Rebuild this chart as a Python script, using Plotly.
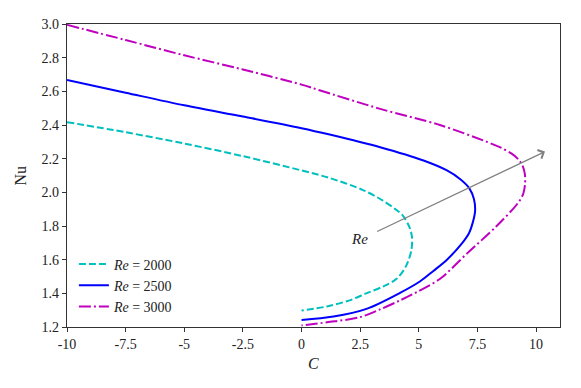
import plotly.graph_objects as go

# Nu versus C, one branch per Reynolds number
c_re2000 = [-10, -7.5, -5, -2.5, 0, 1.2, 2.6, 3.47, 4.0, 4.32, 4.6, 4.71, 4.68, 4.45, 4.05, 3.47, 2.76, 2.08, 1.08, 0]
nu_re2000 = [2.417, 2.357, 2.29, 2.215, 2.13, 2.085, 2.015, 1.951, 1.90, 1.862, 1.793, 1.733, 1.654, 1.56, 1.486, 1.44, 1.40, 1.36, 1.322, 1.298]

c_re2500 = [-10, -7.5, -5, -2.5, 0, 1.2, 3.35, 5.2, 6.2, 6.77, 7.15, 7.35, 7.4, 7.3, 7.15, 6.83, 6.2, 5.62, 5.06, 4.2, 2.77, 1.36, 0]
nu_re2500 = [2.668, 2.592, 2.517, 2.45, 2.381, 2.343, 2.268, 2.189, 2.13, 2.078, 2.025, 1.96, 1.89, 1.82, 1.76, 1.695, 1.60, 1.533, 1.472, 1.403, 1.308, 1.262, 1.242]

c_re3000 = [-10, -7.5, -5, -2.5, 0, 0.8, 3.35, 5.9, 7.9, 8.5, 8.96, 9.25, 9.42, 9.52, 9.53, 9.45, 9.22, 8.32, 7.05, 5.91, 4.92, 4.2, 3.35, 2.48, 1.08, 0]
nu_re3000 = [2.995, 2.905, 2.814, 2.73, 2.64, 2.605, 2.496, 2.40, 2.30, 2.265, 2.23, 2.195, 2.16, 2.11, 2.05, 1.99, 1.935, 1.80, 1.636, 1.487, 1.408, 1.358, 1.305, 1.258, 1.228, 1.209]

x_ticks = [-10, -7.5, -5, -2.5, 0, 2.5, 5, 7.5, 10]
x_tick_text = ["-10", "-7.5", "-5", "-2.5", "0", "2.5", "5", "7.5", "10"]
y_ticks = [1.2, 1.4, 1.6, 1.8, 2.0, 2.2, 2.4, 2.6, 2.8, 3.0]

FONT = "Liberation Serif, serif"
TEXT = "#222"

series = [
    ("<i>Re</i> = 2000", c_re2000, nu_re2000, "#00BFBF", "7px,3px"),
    ("<i>Re</i> = 2500", c_re2500, nu_re2500, "#0000FF", "solid"),
    ("<i>Re</i> = 3000", c_re3000, nu_re3000, "#BF00BF", "12px,3px,2px,3px"),
]

fig = go.Figure()
for name, xs, ys, color, dash in series:
    fig.add_trace(go.Scatter(
        x=xs, y=ys, mode="lines", name=name,
        line={"color": color, "width": 2, "dash": dash, "shape": "spline", "smoothing": 0.9},
    ))

# arrow showing increasing Re
fig.add_annotation(
    x=10.38, y=2.242, ax=3.16, ay=1.763, xref="x", yref="y", axref="x", ayref="y",
    text="", showarrow=True, arrowhead=4, arrowsize=1.4, arrowwidth=1.3,
    arrowcolor="#808080", standoff=0, startstandoff=0,
)
fig.add_annotation(
    x=2.45, y=1.72, xref="x", yref="y", text="<i>Re</i>", showarrow=False,
    font={"family": FONT, "size": 15, "color": TEXT},
)

# axis titles
fig.add_annotation(
    x=0.5, y=0, xref="paper", yref="paper", text="<i>C</i>", showarrow=False,
    xanchor="center", yanchor="top", yshift=-26,
    font={"family": FONT, "size": 16, "color": TEXT},
)
fig.add_annotation(
    x=0, y=0.5, xref="paper", yref="paper", text="Nu", showarrow=False, textangle=-90,
    xanchor="center", yanchor="middle", xshift=-47,
    font={"family": FONT, "size": 16, "color": TEXT},
)

axis_common = {
    "showline": True, "linecolor": "#333", "linewidth": 1.2, "mirror": True,
    "ticks": "outside", "ticklen": 4, "tickcolor": "#333",
    "showgrid": False, "zeroline": False, "automargin": False,
    "tickfont": {"family": FONT, "size": 14, "color": TEXT},
}

# page body keeps its default 8px margin, so the figure is 8px smaller than the window
fig.update_layout(
    width=573, height=380,
    paper_bgcolor="white", plot_bgcolor="white",
    margin={"l": 59, "r": 21, "t": 16, "b": 61},
    xaxis={**axis_common, "range": [-10, 11.02], "tickvals": x_ticks, "ticktext": x_tick_text},
    yaxis={**axis_common, "range": [1.2, 3.0], "tickvals": y_ticks, "tickformat": ".1f"},
    legend={"x": 0.014, "y": 0.015, "xanchor": "left", "yanchor": "bottom",
            "bgcolor": "rgba(0,0,0,0)", "itemwidth": 30, "tracegroupgap": 0,
            "font": {"family": FONT, "size": 14, "color": TEXT}},
    showlegend=True,
)

fig.write_html("out.html")
